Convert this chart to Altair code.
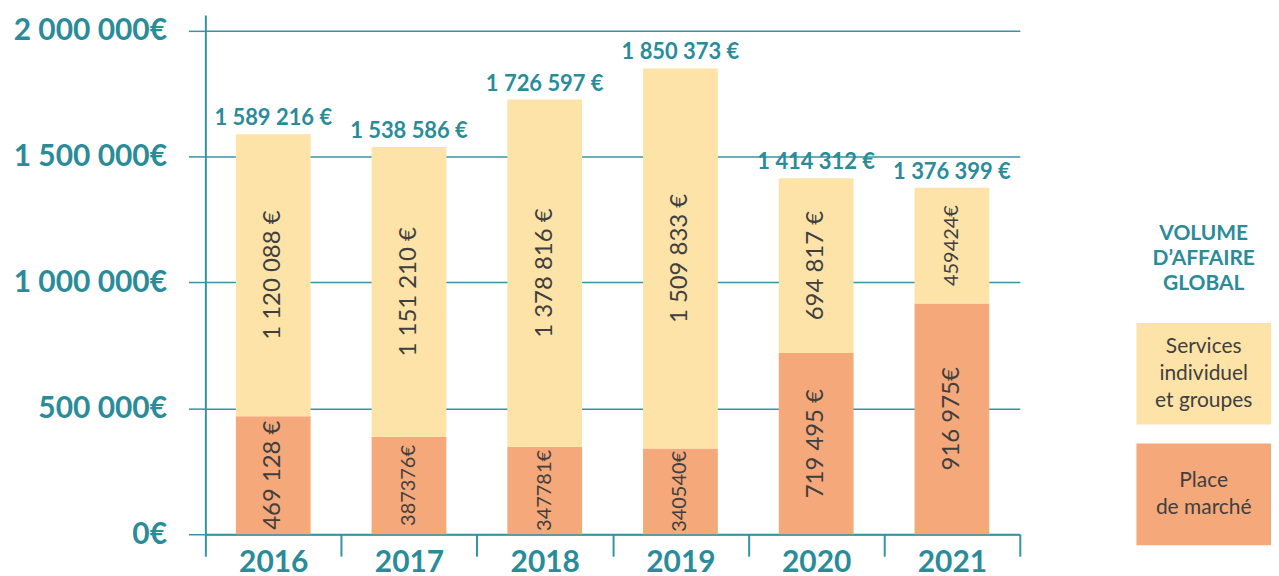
import altair as alt
import pandas as pd

# ---- data ----
years = ["2016", "2017", "2018", "2019", "2020", "2021"]
place_values = [469128, 387376, 347781, 340540, 719495, 916975]
services_values = [1120088, 1151210, 1378816, 1509833, 694817, 459424]
place_labels = ["469 128 €", "387376€", "347781€", "340540€", "719 495 €", "916 975€"]
services_labels = ["1 120 088 €", "1 151 210 €", "1 378 816 €", "1 509 833 €", "694 817 €", "459424€"]
series_names = ["Services\nindividuel\net groupes", "Place\nde marché"]
legend_title = "VOLUME\nD’AFFAIRE\nGLOBAL"
y_ticks = [0, 500000, 1000000, 1500000, 2000000]

TEAL = "#2a8b99"
LINE = "#3594a2"
DARK = "#3f3f3f"
COLORS = ["#FDE3A7", "#F5A87A"]
FONT = "Lato"

rows = []
for i, yr in enumerate(years):
    rows.append({"year": yr, "series": series_names[1], "value": place_values[i], "label": place_labels[i]})
    rows.append({"year": yr, "series": series_names[0], "value": services_values[i], "label": services_labels[i]})
df = pd.DataFrame(rows)

color_scale = alt.Scale(domain=series_names, range=COLORS)
xscale = alt.Scale(paddingInner=0, paddingOuter=0)
yscale = alt.Scale(domain=[0, 2063000], nice=False)

xaxis = alt.Axis(labelAngle=0, labelFont=FONT, labelFontSize=30, labelFontWeight="bold",
                 labelColor=TEAL, tickBand="extent", tickSize=22, tickColor=LINE, tickWidth=2,
                 domainColor=LINE, domainWidth=2, labelPadding=-9, title=None)
yaxis = alt.Axis(values=y_ticks, format=",.0f", labelExpr="datum.label + '€'", labelFont=FONT,
                 labelFontSize=30, labelFontWeight="bold", labelColor=TEAL, labelPadding=22,
                 tickSize=17, tickColor=LINE, tickWidth=1.5, domainColor=LINE, domainWidth=2,
                 grid=True, gridColor=LINE, gridWidth=1.5, title=None)

base = alt.Chart(df).transform_calculate(
    ord="indexof(datum.series, 'Place') >= 0 ? 0 : 1"
).transform_stack(
    stack="value", groupby=["year"], as_=["v0", "v1"], sort=[alt.SortField("ord", order="ascending")]
)

bars = base.mark_bar(size=75).encode(
    x=alt.X("year:N", scale=xscale, axis=xaxis, title=None),
    y=alt.Y("v0:Q", scale=yscale, axis=yaxis, title=None),
    y2="v1:Q",
    color=alt.Color("series:N", scale=color_scale, legend=None),
)

inner = base.transform_calculate(mid="(datum.v0 + datum.v1) / 2").mark_text(
    angle=270, font=FONT, color=DARK, baseline="middle", align="center"
).encode(
    x=alt.X("year:N"),
    y=alt.Y("mid:Q"),
    text="label:N",
    size=alt.condition("indexof(datum.label, ' ') < 0", alt.value(20), alt.value(24)),
)

totals = alt.Chart(df).transform_aggregate(
    total="sum(value)", groupby=["year"]
).mark_text(
    font=FONT, fontWeight="bold", fontSize=22, color=TEAL, baseline="alphabetic", dy=-9
).encode(
    x=alt.X("year:N"),
    y=alt.Y("total:Q"),
    text=alt.Text("total:Q", format="$,.0f"),
)

main = alt.layer(bars, inner, totals).properties(width=817, height=521)

# ---- legend panel ----
leg_y = alt.Scale(domain=[legend_title] + series_names, range=[188, 532], paddingInner=0.157, paddingOuter=0)
leg_series = pd.DataFrame({"name": series_names})

leg_layers = [
    alt.Chart(leg_series).mark_rect().encode(
        y=alt.Y("name:N", scale=leg_y, axis=None),
        color=alt.Color("name:N", scale=color_scale, legend=None),
    )
]
LEG_LH = 27
for name in series_names:
    n_lines = name.count("\n") + 1
    leg_layers.append(
        alt.Chart(pd.DataFrame({"name": [name]})).mark_text(
            font=FONT, fontSize=21, lineHeight=LEG_LH, color=DARK, lineBreak="\n",
            baseline="middle", align="center", dy=-(n_lines - 1) * LEG_LH / 2
        ).encode(y=alt.Y("name:N", scale=leg_y, axis=None), text="name:N")
    )
TITLE_LH = 25
n_title = legend_title.count("\n") + 1
leg_layers.append(
    alt.Chart(pd.DataFrame({"name": [legend_title]})).mark_text(
        font=FONT, fontSize=21, fontWeight="bold", lineHeight=TITLE_LH, color=TEAL, lineBreak="\n",
        baseline="middle", align="center", dy=-(n_title - 1) * TITLE_LH / 2 + 6
    ).encode(y=alt.Y("name:N", scale=leg_y, axis=None), text="name:N")
)

legend = alt.layer(*leg_layers).properties(width=135, height=521)

chart = alt.hconcat(main, legend, spacing=116).resolve_scale(
    x="independent", y="independent"
).properties(
    padding={"left": 5, "top": 6, "right": 0, "bottom": 0}
).configure(
    locale=alt.Locale(number=alt.NumberLocale(decimal=",", thousands=" ", grouping=[3], currency=["", " €"]))
).configure_view(stroke=None)

chart.save("out.html", embed_options={"renderer": "svg", "actions": False})
